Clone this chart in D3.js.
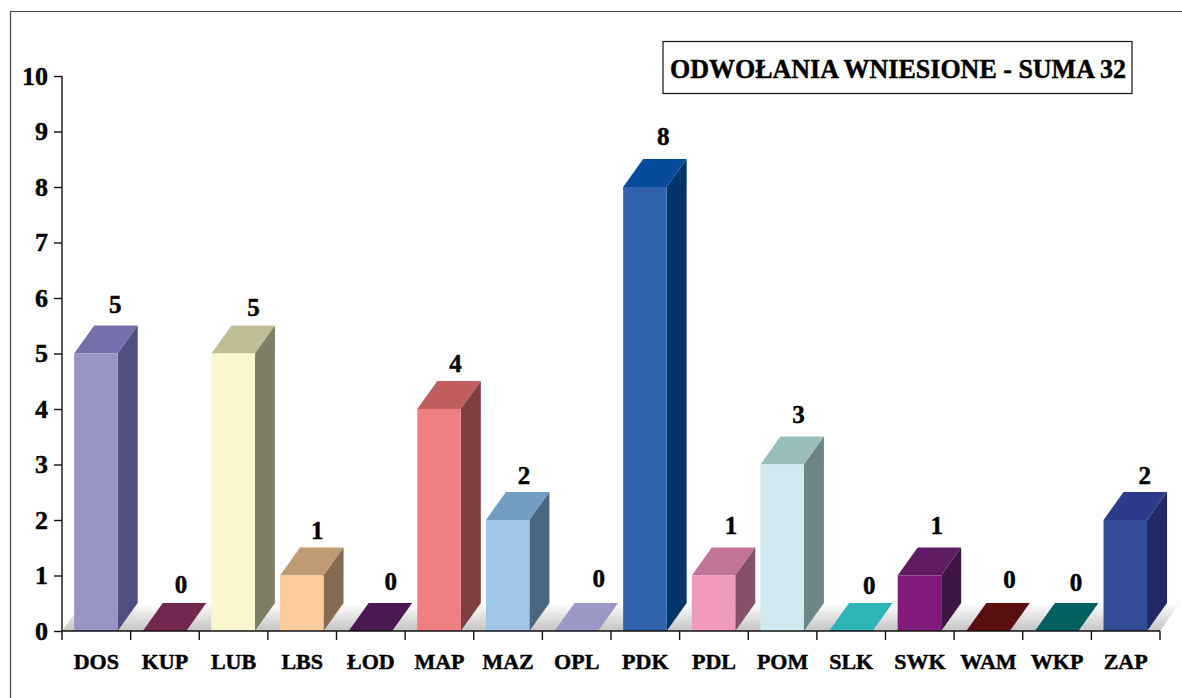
<!DOCTYPE html>
<html><head><meta charset="utf-8">
<style>html,body{margin:0;padding:0;background:#fff}svg{display:block}
text{font-family:"Liberation Serif",serif;font-weight:bold;fill:#000;stroke:#000;stroke-width:0.45px}</style>
<script src="https://cdn.jsdelivr.net/npm/d3@7/dist/d3.min.js"></script></head>
<body><svg id="c" width="1182" height="698"></svg>
<script>
const categories=["DOS","KUP","LUB","LBS","ŁOD","MAP","MAZ","OPL","PDK","PDL","POM","SLK","SWK","WAM","WKP","ZAP"];
const values=[5,0,5,1,0,4,2,0,8,1,3,0,1,0,0,2];
const yTicks=[0,1,2,3,4,5,6,7,8,9,10];
const frontColors=["#9894C6","#73264E","#FDF7CF","#FBCB9B","#4B1951","#EE7E80","#9FC5E8","#9B98C5","#3063AB","#F29ABE","#D1E9F1","#2DB5B8","#821A7E","#5A1010","#026060","#334C96"];
const topColors=["#7470AE","#73264E","#BFBE97","#BF9A73","#4B1951","#C05E60","#739EC3","#9B98C5","#064C9B","#C27599","#9ABEBE","#2DB5B8","#601C62","#5A1010","#026060","#2D3B8C"];
const sideColors=["#4F4F82","#73264E","#807F65","#856B52","#4B1951","#7F3E40","#4D667F","#9B98C5","#04356A","#855069","#6D8585","#2DB5B8","#3F1543","#5A1010","#026060","#222A66"];
const labelDx=[19,16,20,15,20,16,16,22,18,17,16,18,17,21,19,19];
const labelDy=[-12.5,-10,-9.5,-8.5,-13,-9,-8,-16,-14,-13.5,-13.5,-9,-13.5,-15,-12,-8];
const titleText="ODWOŁANIA WNIESIONE - SUMA 32";

const svg=d3.select("#c");
const m={l:62,r:1160,t:76,b:631},dx=20,dy=28;
const x=d3.scaleBand().domain(categories).range([m.l,m.r]).paddingInner(0.366).paddingOuter(0.183);
const y=d3.scaleLinear().domain([0,10]).range([m.b,m.t]);
const defs=svg.append("defs");
const g=defs.append("linearGradient").attr("id","floor").attr("x1",0).attr("y1",0).attr("x2",0).attr("y2",1);
g.append("stop").attr("offset",0).attr("stop-color","#ffffff");
g.append("stop").attr("offset",1).attr("stop-color","#c4c4c4");

svg.append("path").attr("d","M10.5 698V11.5H1182").attr("fill","none").attr("stroke","#444").attr("stroke-width",1.2);
svg.append("path").attr("d",`M${m.l} ${m.b}L${m.l+dx} ${m.b-dy}H${m.r+dx}L${m.r} ${m.b}Z`).attr("fill","url(#floor)");

const bars=svg.selectAll(".bar").data(categories).join("g").attr("class","bar");
const para=(i)=>{const a=x(categories[i])-0.4,w=x.bandwidth(),t=y(values[i]);return {a,w,t};};
bars.append("path").attr("d",(d,i)=>{const {a,w,t}=para(i);return `M${a} ${t}L${a+dx} ${t-dy}H${a+w+dx}L${a+w} ${t}Z`;}).attr("fill",(d,i)=>topColors[i]);
bars.append("path").attr("d",(d,i)=>{const {a,w,t}=para(i);return `M${a+w} ${t}L${a+w+dx} ${t-dy}V${m.b-dy}L${a+w} ${m.b}Z`;}).attr("fill",(d,i)=>sideColors[i]);
bars.append("rect").attr("x",d=>x(d)-0.4).attr("width",x.bandwidth()).attr("y",(d,i)=>y(values[i])).attr("height",(d,i)=>m.b-y(values[i])).attr("fill",(d,i)=>frontColors[i]);

const yAxis=svg.append("g").attr("transform",`translate(${m.l},0)`).call(d3.axisLeft(y).tickValues(yTicks).tickSize(8).tickPadding(6));
const xAxis=svg.append("g").attr("transform",`translate(0,${m.b})`).call(d3.axisBottom(x).tickSize(0).tickPadding(22));
[yAxis,xAxis].forEach(a=>{a.selectAll("path,line").attr("stroke","#111").attr("stroke-width",1.4);a.selectAll("text").style("font-family","Liberation Serif").style("font-weight","bold").attr("fill","#000");});
yAxis.select(".domain").attr("d",`M0 ${m.t}V${m.b}`);
yAxis.selectAll("text").style("font-size","26px");
xAxis.select(".domain").attr("d",`M${m.l} 0H${m.r}`);
xAxis.selectAll("text").style("font-size","22px");
xAxis.selectAll(".edge").data(d3.range(categories.length+1)).join("line").attr("class","edge")
 .attr("x1",i=>m.l+x.step()*i).attr("x2",i=>m.l+x.step()*i).attr("y1",0).attr("y2",9).attr("stroke","#111").attr("stroke-width",1.4);

svg.selectAll(".val").data(categories).join("text").attr("class","val")
 .attr("x",(d,i)=>x(d)+x.bandwidth()/2+labelDx[i]).attr("y",(d,i)=>y(values[i])-dy+labelDy[i])
 .attr("text-anchor","middle").style("font-size","25px").text((d,i)=>values[i]);

svg.append("rect").attr("x",663).attr("y",41.5).attr("width",469).attr("height",52).attr("fill","#fff").attr("stroke","#111").attr("stroke-width",1.2);
svg.append("text").attr("x",898).attr("y",78).attr("text-anchor","middle").attr("textLength",456).attr("lengthAdjust","spacingAndGlyphs").style("font-size","28px").text(titleText);
</script></body></html>
